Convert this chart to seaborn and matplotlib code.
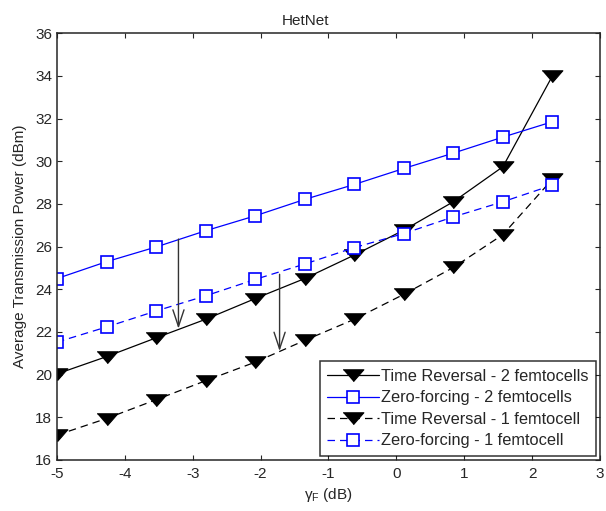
import pandas as pd
import matplotlib.pyplot as plt
import seaborn as sns

# Data
gamma_f = [-5.0, -4.27, -3.54, -2.81, -2.08, -1.35, -0.62, 0.11, 0.84, 1.57, 2.30]
tr_2 = [20.03, 20.84, 21.72, 22.59, 23.56, 24.50, 25.60, 26.77, 28.10, 29.74, 34.00]
zf_2 = [24.50, 25.29, 25.98, 26.74, 27.44, 28.21, 28.91, 29.66, 30.38, 31.13, 31.85]
tr_1 = [17.16, 17.94, 18.82, 19.71, 20.58, 21.60, 22.59, 23.76, 25.02, 26.56, 29.16]
zf_1 = [21.52, 22.23, 22.98, 23.69, 24.46, 25.18, 25.95, 26.61, 27.39, 28.10, 28.88]

series_names = ["Time Reversal - 2 femtocells", "Zero-forcing - 2 femtocells",
                "Time Reversal - 1 femtocell", "Zero-forcing - 1 femtocell"]

# arrows: (x, y_start, y_end)
arrows = [(-3.21, 26.35, 22.15), (-1.72, 24.70, 21.10)]

sns.set_style("ticks")
plt.rcParams['font.family'] = ['Liberation Sans', 'DejaVu Sans']
plt.rcParams['mathtext.fontset'] = 'custom'
plt.rcParams['mathtext.it'] = 'Liberation Sans'
plt.rcParams['mathtext.rm'] = 'Liberation Sans'
plt.rcParams['axes.unicode_minus'] = False

fig = plt.figure(figsize=(6.06, 5.11), dpi=100)
ax = fig.add_axes([0.094, 0.100, 0.896, 0.835])

# MATLAB-like wide, flat down-triangle
tri = [(-1, 0.55), (1, 0.55), (0, -0.6)]

styles = [
    dict(color="black", linestyle="-", marker=tri, markersize=15,
         markerfacecolor="black", markeredgecolor="black"),
    dict(color="blue", linestyle="-", marker="s", markersize=8,
         markerfacecolor="white", markeredgecolor="blue", markeredgewidth=1.2),
    dict(color="black", linestyle=(0, (6, 4)), marker=tri, markersize=15,
         markerfacecolor="black", markeredgecolor="black"),
    dict(color="blue", linestyle=(0, (6, 4)), marker="s", markersize=8,
         markerfacecolor="white", markeredgecolor="blue", markeredgewidth=1.2),
]

for name, vals, st in zip(series_names, [tr_2, zf_2, tr_1, zf_1], styles):
    df = pd.DataFrame({"x": gamma_f, "y": vals})
    sns.lineplot(data=df, x="x", y="y", ax=ax, label=name, linewidth=0.9, **st)

for x, y0, y1 in arrows:
    ax.annotate("", xy=(x, y1), xytext=(x, y0),
                arrowprops=dict(arrowstyle="->, head_length=1.2, head_width=0.4",
                                color="#333333", lw=1.0, mutation_scale=10,
                                shrinkA=0, shrinkB=0))

ax.set_xlim(-5, 3)
ax.set_ylim(16, 36)
ax.set_xticks(range(-5, 4))
ax.set_yticks(range(16, 37, 2))
ax.tick_params(direction="in", top=True, right=True, length=3.5, labelsize=11)
ax.tick_params(axis="x", pad=5)
ax.tick_params(axis="y", pad=3.5)
for s in ax.spines.values():
    s.set_linewidth(1.1)
    s.set_visible(True)

ax.set_title("HetNet", fontsize=11, x=(306 - 57) / 543, pad=6)
ax.set_xlabel(r"$\gamma_F$ (dB)", fontsize=11, labelpad=4)
ax.set_ylabel("Average Transmission Power (dBm)", fontsize=11, labelpad=6)

leg = ax.legend(loc="lower right", fontsize=11.8, frameon=True, fancybox=False,
                edgecolor="black", borderaxespad=0.25, handlelength=3.2,
                labelspacing=0.4, handletextpad=0.1, borderpad=0.45)
leg.get_frame().set_linewidth(1.1)

fig.savefig("out.png", dpi=100)
